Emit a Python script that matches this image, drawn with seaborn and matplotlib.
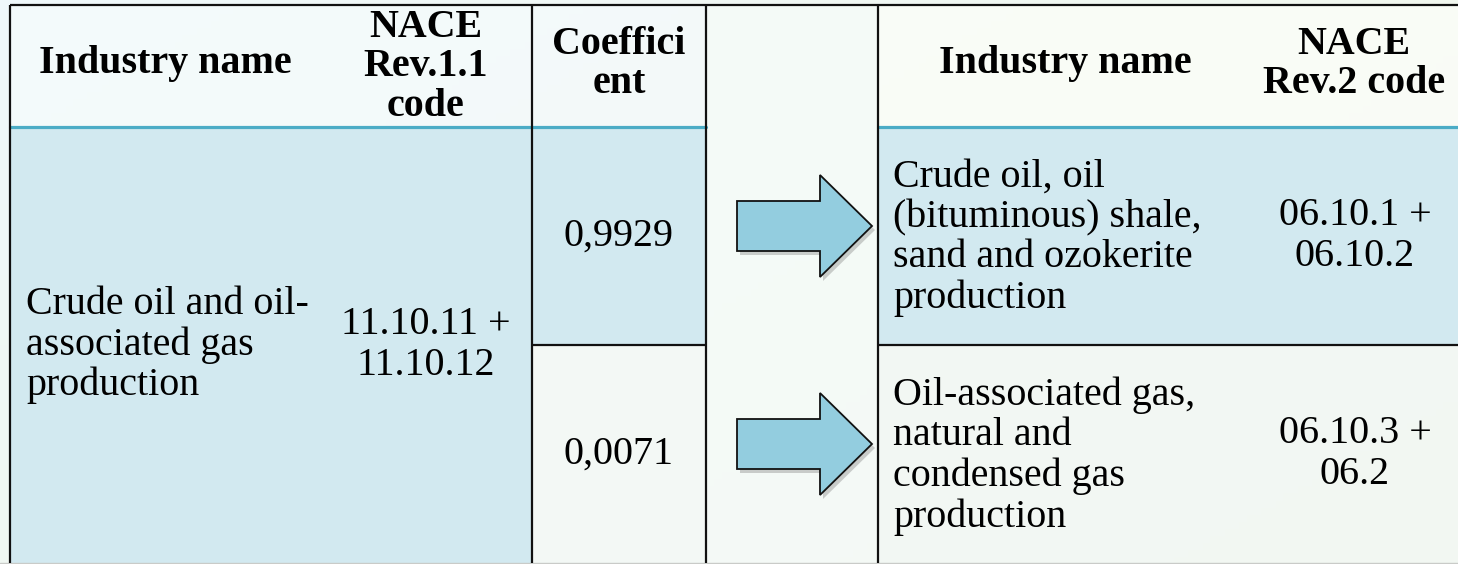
import numpy as np
import matplotlib
matplotlib.use("Agg")
import matplotlib.pyplot as plt
from matplotlib.patches import Rectangle, Polygon
import seaborn as sns

# ---------------- data ----------------
header_left = ["Industry name", "NACE\nRev.1.1\ncode", "Coeffici\nent"]
header_right = ["Industry name", "NACE\nRev.2 code"]
old_industry = "Crude oil and oil-\nassociated gas\nproduction"
old_code = "11.10.11 +\n11.10.12"
coefficients = ["0,9929", "0,0071"]
new_industries = [
    "Crude oil, oil\n(bituminous) shale,\nsand and ozokerite\nproduction",
    "Oil-associated gas,\nnatural and\ncondensed gas\nproduction",
]
new_codes = ["06.10.1 +\n06.10.2", "06.10.3 +\n06.2"]

# ---------------- style ----------------
sns.set_theme(style="white")
plt.rcParams["font.family"] = ["Liberation Serif", "DejaVu Serif"]

W, H = 1458, 564
fig = plt.figure(figsize=(W / 100, H / 100), dpi=100)
ax = fig.add_axes([0, 0, 1, 1])
ax.set_xlim(0, W)
ax.set_ylim(H, 0)
ax.axis("off")

# background gradient
gx = np.linspace(0, 1, 200)
gy = np.linspace(0, 1, 80)
GX, GY = np.meshgrid(gx, gy)
c_a = np.array([0.94, 0.975, 0.985])
c_b = np.array([0.95, 0.965, 0.90])
t = np.clip(0.6 * GX + 0.4 * GY, 0, 1)[..., None]
bg = c_a * (1 - t) + c_b * t
ax.imshow(bg, extent=[0, W, H, 0], aspect="auto", zorder=0)

# layout (pixel coordinates)
x_edges_left = [10, 320, 532, 706]
x_mid = (706, 878)
x_edges_right = [878, 1252, 1460]
y_top, y_head, y_div, y_bot = 5, 127, 345, 563

light_blue = "#d2e9f0"
header_fill = "#f5fbfc"
pale_fill = "#f3f8f5"

# header fills
ax.add_patch(Rectangle((x_edges_left[0], y_top), x_edges_left[-1] - x_edges_left[0],
                       y_head - y_top, fc=header_fill, ec="none", alpha=0.75, zorder=1))
ax.add_patch(Rectangle((x_edges_right[0], y_top), x_edges_right[-1] - x_edges_right[0],
                       y_head - y_top, fc="#fbfdf8", ec="none", alpha=0.85, zorder=1))
ax.add_patch(Rectangle((x_mid[0], y_top), x_mid[1] - x_mid[0], y_bot - y_top,
                       fc="#f6fbf9", ec="none", alpha=0.8, zorder=1))
# body fills
ax.add_patch(Rectangle((x_edges_left[0], y_head), x_edges_left[2] - x_edges_left[0],
                       y_bot - y_head, fc=light_blue, ec="none", zorder=1))
ax.add_patch(Rectangle((x_edges_left[2], y_head), x_edges_left[3] - x_edges_left[2],
                       y_div - y_head, fc=light_blue, ec="none", zorder=1))
ax.add_patch(Rectangle((x_edges_left[2], y_div), x_edges_left[3] - x_edges_left[2],
                       y_bot - y_div, fc=pale_fill, ec="none", zorder=1))
ax.add_patch(Rectangle((x_edges_right[0], y_head), x_edges_right[-1] - x_edges_right[0],
                       y_div - y_head, fc=light_blue, ec="none", zorder=1))
ax.add_patch(Rectangle((x_edges_right[0], y_div), x_edges_right[-1] - x_edges_right[0],
                       y_bot - y_div, fc=pale_fill, ec="none", alpha=0.85, zorder=1))

# lines
k = dict(color="#111111", lw=1.6, zorder=5, solid_capstyle="butt")
ax.plot([x_edges_left[0], W], [y_top, y_top], **k)
for xv in (x_edges_left[0], x_edges_left[2], x_edges_left[3], x_edges_right[0]):
    ax.plot([xv, xv], [y_top, y_bot], **k)
ax.plot([x_edges_left[2], x_edges_left[3]], [y_div, y_div], **k)
ax.plot([x_edges_right[0], W], [y_div, y_div], **k)
ax.plot([x_edges_left[0], x_edges_left[3]], [y_head, y_head], color="#4bacc6", lw=2.3, zorder=4)
ax.plot([x_edges_right[0], W], [y_head, y_head], color="#4bacc6", lw=2.3, zorder=4)
ax.plot([0, W], [y_bot, y_bot], color="#c9cbc8", lw=1.0, zorder=4)

FS = 28.8
LS = 1.1
bold = dict(fontsize=FS, fontweight="bold", color="black", linespacing=LS, zorder=6)
reg = dict(fontsize=FS, color="black", linespacing=1.12, zorder=6)

# headers
for i, txt in enumerate(header_left):
    xc = (x_edges_left[i] + x_edges_left[i + 1]) / 2
    hy = 67 if txt.count("\n") == 2 else 64
    ax.text(xc, hy, txt, ha="center", va="center", multialignment="center", **bold)
for i, txt in enumerate(header_right):
    xc = (x_edges_right[i] + x_edges_right[i + 1]) / 2 - (2 if i == 1 else 0)
    ax.text(xc, 64, txt, ha="center", va="center", multialignment="center", **bold)

# body left
body_c = (y_head + y_bot) / 2
ax.text(26, body_c, old_industry, ha="left", va="center", **reg)
ax.text((x_edges_left[1] + x_edges_left[2]) / 2, body_c, old_code,
        ha="center", va="center", multialignment="center", **reg)

row_centers = [(y_head + y_div) / 2, (y_div + y_bot) / 2]
for rc, coef, ind, code in zip(row_centers, coefficients, new_industries, new_codes):
    ax.text((x_edges_left[2] + x_edges_left[3]) / 2, rc, coef, ha="center", va="center", **reg)
    ax.text(893, rc + 2, ind, ha="left", va="center", **reg)
    ax.text(1355, rc, code, ha="center", va="center", multialignment="center", **reg)

    # arrow
    ac = rc - 10
    xs0, xh, xt = 737, 820, 872
    sh, hh = 25, 51
    pts = np.array([[xs0, ac - sh], [xh, ac - sh], [xh, ac - hh], [xt, ac],
                    [xh, ac + hh], [xh, ac + sh], [xs0, ac + sh]])
    ax.add_patch(Polygon(pts + [3, 4], closed=True, fc="#777777", ec="none", alpha=0.35, zorder=6))
    ax.add_patch(Polygon(pts, closed=True, fc="#93cddf", ec="#111111", lw=1.3, zorder=7,
                         joinstyle="miter"))

fig.savefig("out.png", dpi=100)
